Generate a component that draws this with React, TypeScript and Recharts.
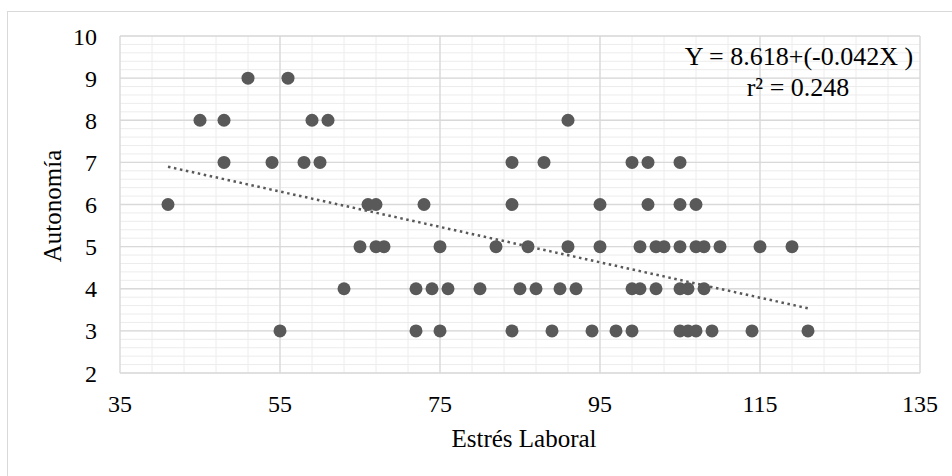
import React from 'react';
import { ScatterChart, Scatter, XAxis, YAxis, CartesianGrid, ReferenceLine } from 'recharts';

const estresLaboral = [
  51, 56,
  45, 48, 59, 61, 91,
  48, 54, 58, 60, 84, 88, 99, 101, 105,
  41, 66, 67, 73, 84, 95, 101, 105, 107,
  65, 67, 68, 75, 82, 86, 91, 95, 100, 102, 103, 105, 107, 108, 110, 115, 119,
  63, 72, 74, 76, 80, 85, 87, 90, 92, 99, 100, 102, 105, 106, 108,
  55, 72, 75, 84, 89, 94, 97, 99, 105, 106, 107, 109, 114, 121,
];
const autonomia = [
  9, 9,
  8, 8, 8, 8, 8,
  7, 7, 7, 7, 7, 7, 7, 7, 7,
  6, 6, 6, 6, 6, 6, 6, 6, 6,
  5, 5, 5, 5, 5, 5, 5, 5, 5, 5, 5, 5, 5, 5, 5, 5, 5,
  4, 4, 4, 4, 4, 4, 4, 4, 4, 4, 4, 4, 4, 4, 4,
  3, 3, 3, 3, 3, 3, 3, 3, 3, 3, 3, 3, 3, 3,
];
const xTicks = [35, 55, 75, 95, 115, 135];
const yTicks = [2, 3, 4, 5, 6, 7, 8, 9, 10];
const trendX = [41, 121];
const trendY = [6.896, 3.536];
const equationText = 'Y = 8.618+(-0.042X )';
const r2Text = 'r² = 0.248';

const data = estresLaboral.map((x, i) => ({ x, y: autonomia[i] }));

const minorX: number[] = [];
for (let v = 35; v <= 135; v += 4) minorX.push(v);
const minorY: number[] = [];
for (let k = 10; k <= 50; k += 1) minorY.push(k / 5);

const FONT = "'Liberation Serif', 'Times New Roman', serif";
const tickStyle = { fontFamily: FONT, fontSize: 24, fill: '#000' };

const Dot = (props: any) => (
  <circle cx={props.cx} cy={props.cy} r={6.5} fill="#595959" />
);

export default function App() {
  return (
    <div style={{ position: 'absolute', left: 0, top: 0, width: 952, height: 476, overflow: 'hidden', background: '#fff' }}>
      <div style={{ position: 'absolute', left: 7, top: 11, width: 1000, height: 1000, border: '1px solid #d9d9d9' }} />
      <div style={{ position: 'absolute', left: 0, top: 0 }}>
        <ScatterChart width={952} height={476} margin={{ top: 36, right: 32, bottom: 0, left: 0 }}>
          <CartesianGrid stroke="#ececec" strokeWidth={1} horizontalValues={minorY} verticalValues={minorX} />
          <CartesianGrid stroke="#d9d9d9" strokeWidth={1.3} horizontalValues={yTicks} verticalValues={xTicks} />
          <XAxis
            type="number"
            dataKey="x"
            domain={[35, 135]}
            ticks={xTicks}
            interval={0}
            height={103}
            axisLine={false}
            tickLine={false}
            tickSize={0}
            tickMargin={22}
            tick={tickStyle}
            label={{
              content: () => (
                <text x={524} y={447} textAnchor="middle" fontFamily={FONT} fontSize={25} fill="#000">
                  Estrés Laboral
                </text>
              ),
            }}
          />
          <YAxis
            type="number"
            dataKey="y"
            domain={[2, 10]}
            ticks={yTicks}
            interval={0}
            width={120}
            axisLine={false}
            tickLine={false}
            tickSize={0}
            tickMargin={23}
            tick={tickStyle}
            label={{
              content: () => (
                <text
                  x={52}
                  y={206}
                  transform="rotate(-90 52 206)"
                  textAnchor="middle"
                  dominantBaseline="central"
                  fontFamily={FONT}
                  fontSize={25}
                  fill="#000"
                >
                  Autonomía
                </text>
              ),
            }}
          />
          <ReferenceLine
            segment={[{ x: trendX[0], y: trendY[0] }, { x: trendX[1], y: trendY[1] }]}
            stroke="#595959"
            strokeWidth={2.5}
            strokeDasharray="2.5 3.6"
          />
          <Scatter data={data} fill="#595959" shape={Dot} isAnimationActive={false} />
        </ScatterChart>
      </div>
      <div style={{ position: 'absolute', left: 649, width: 300, top: 42, lineHeight: '30px', textAlign: 'center', fontFamily: FONT, fontSize: 26, color: '#000', whiteSpace: 'pre' }}>
        {equationText}
      </div>
      <div style={{ position: 'absolute', left: 648, width: 300, top: 73, lineHeight: '30px', textAlign: 'center', fontFamily: FONT, fontSize: 26, color: '#000', whiteSpace: 'pre' }}>
        {r2Text}
      </div>
    </div>
  );
}
